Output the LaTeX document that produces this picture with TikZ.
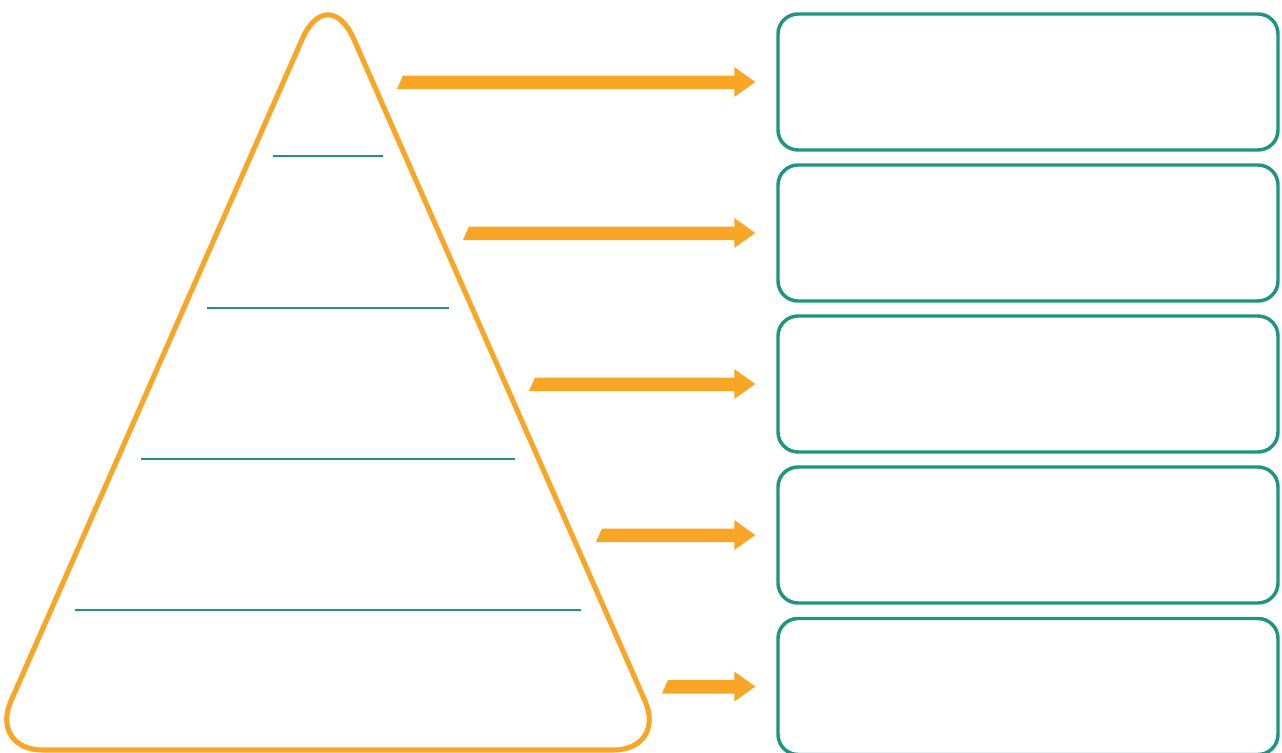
\documentclass[tikz,border=0pt]{standalone}
\usetikzlibrary{calc}
\definecolor{pyrorange}{HTML}{F9A526}
\definecolor{tealc}{HTML}{1E9483}
\tikzset{
  px/.style={x=0.75pt,y=-0.75pt},
  infobox/.style={draw=tealc,line width=2.6pt,rounded corners=15pt,minimum width=375pt,minimum height=102pt,inner sep=0pt,fill=white},
  levelline/.style={draw=tealc,line width=1.3pt},
  fatarrow/.style={fill=pyrorange,draw=none}
}
\begin{document}
\begin{tikzpicture}[px]
\useasboundingbox (0,0) rectangle (1282,753);
\begin{scope}
\clip (0,0) rectangle (1282,753);
% pyramid
\draw[draw=pyrorange,line width=3.8pt,line join=round]
  (328,750) [rounded corners=40pt] -- (-10.6,750) [rounded corners=48pt] -- (328,-19.5) [rounded corners=40pt] -- (666.6,750) [sharp corners] -- cycle;
% level lines
\coordinate (l1a) at (273,156); \coordinate (l1b) at (383,156);
\coordinate (l2a) at (207,308); \coordinate (l2b) at (449,308);
\coordinate (l3a) at (141,459); \coordinate (l3b) at (515,459);
\coordinate (l4a) at (75,610);  \coordinate (l4b) at (581,610);
\draw[levelline] (l1a) -- (l1b);
\draw[levelline] (l2a) -- (l2b);
\draw[levelline] (l3a) -- (l3b);
\draw[levelline] (l4a) -- (l4b);
% boxes
\node[infobox] (b1) at (1028,82) {};
\node[infobox] (b2) at (1028,233) {};
\node[infobox] (b3) at (1028,384) {};
\node[infobox] (b4) at (1028,535) {};
\node[infobox] (b5) at (1028,686.5) {};
% arrows
\foreach \b/\tx in {b1/397,b2/463,b3/529,b4/596,b5/662}{
  \path let \p1=(\b.west) in
    coordinate (tip) at ($(\p1)+(-21,0)$);
  \path let \p1=(tip) in
  [fill=pyrorange]
    (\tx,\y1-7*0.75) -- (\x1-21*0.75,\y1-7*0.75) -- (\x1-21*0.75,\y1-15*0.75) -- (tip)
    -- (\x1-21*0.75,\y1+15*0.75) -- (\x1-21*0.75,\y1+6.5*0.75) -- (\tx+6,\y1+6.5*0.75) -- cycle;
}
\end{scope}
\end{tikzpicture}
\end{document}
